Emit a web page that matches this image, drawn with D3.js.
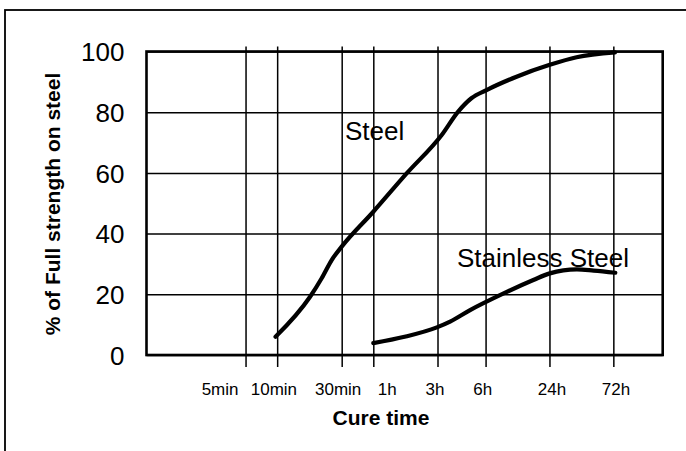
<!DOCTYPE html>
<meta charset="utf-8">
<head>
    <title>Cure time vs strength</title>
    <script src="https://cdn.jsdelivr.net/npm/d3@7"></script>
    <style>
        body { margin: 0; background: #fff; }
        text { font-family: "Liberation Sans", Arial, sans-serif; fill: #000; }
        .grid line { stroke: #000; stroke-width: 1.5; }
        .grid .domain { display: none; }
    </style>
</head>
<body>
<div id="chart"></div>
<script>
    // tick positions on the x axis (axis units) and the cure time labels
    var tickPos = [3.07, 4.05, 6.05, 7.03, 9.02, 10.51, 12.49, 14.47];
    var tickLabels = ["5min", "10min", "30min", "1h", "3h", "6h", "24h", "72h"];
    var labelPos = [2.28, 3.95, 5.94, 7.46, 8.94, 10.42, 12.57, 14.55];
    var yTicks = [0, 20, 40, 60, 80, 100];

    // curves (x in axis units, y in %)
    var steelX = [4.0, 5.07, 5.43, 5.74, 6.05, 7.03, 8.07, 9.15, 9.66, 10.07, 10.54, 11.47, 12.5, 13.33, 14.52];
    var steelY = [6.0, 19.2, 25.3, 31.3, 35.7, 47.2, 59.9, 72.5, 80.2, 84.6, 87.3, 91.7, 95.6, 98.1, 99.7];
    var stainlessX = [7.03, 8.0, 9.0, 9.41, 10.03, 11.07, 11.99, 12.5, 13.34, 13.86, 14.53];
    var stainlessY = [3.9, 6.0, 9.1, 11.0, 14.8, 20.3, 24.7, 26.9, 28.2, 27.8, 27.1];

    var width = 686, height = 451;
    var plot = { left: 146.5, right: 662.7, top: 51.5, bottom: 355 };

    var svg = d3.select("#chart").append("svg")
        .attr("width", width)
        .attr("height", height);

    // outer frame, runs off the right and bottom edges
    svg.append("rect")
        .attr("x", 5).attr("y", 10)
        .attr("width", 700).attr("height", 460)
        .attr("fill", "none")
        .attr("stroke", "#000")
        .attr("stroke-width", 1.8);

    var x = d3.scaleLinear().domain([0, 16]).range([plot.left, plot.right]);
    var y = d3.scaleLinear().domain([0, 100]).range([plot.bottom, plot.top]);

    // vertical grid lines, sticking out above and below the plot
    svg.append("g")
        .attr("class", "grid")
        .attr("transform", "translate(0,367)")
        .call(d3.axisBottom(x).tickValues(tickPos).tickSize(-(367 - 46.5)).tickFormat(""));

    // horizontal grid lines + y labels
    var yAxis = svg.append("g")
        .attr("class", "grid")
        .attr("transform", "translate(" + plot.left + ",0)")
        .call(d3.axisLeft(y).tickValues(yTicks).tickSize(-(plot.right - plot.left)).tickPadding(22));
    yAxis.selectAll("text")
        .style("font-size", "26px")
        .attr("dy", "0.35em");

    // plot frame
    svg.append("rect")
        .attr("x", plot.left).attr("y", plot.top)
        .attr("width", plot.right - plot.left)
        .attr("height", plot.bottom - plot.top)
        .attr("fill", "none")
        .attr("stroke", "#000")
        .attr("stroke-width", 2.6);

    // x labels
    svg.selectAll(".xlab")
        .data(tickLabels)
        .enter()
        .append("text")
        .attr("class", "xlab")
        .attr("x", function (d, i) { return x(labelPos[i]); })
        .attr("y", 395)
        .attr("text-anchor", "middle")
        .style("font-size", "17px")
        .text(function (d) { return d; });

    svg.append("text")
        .attr("x", 381).attr("y", 425)
        .attr("text-anchor", "middle")
        .style("font-size", "21px")
        .style("font-weight", "bold")
        .text("Cure time");

    svg.append("text")
        .attr("transform", "translate(60,204) rotate(-90)")
        .attr("text-anchor", "middle")
        .style("font-size", "21px")
        .style("font-weight", "bold")
        .text("% of Full strength on steel");

    var line = d3.line()
        .x(function (d) { return x(d[0]); })
        .y(function (d) { return y(d[1]); })
        .curve(d3.curveMonotoneX);

    var series = [
        { name: "Steel", pts: d3.zip(steelX, steelY) },
        { name: "Stainless Steel", pts: d3.zip(stainlessX, stainlessY) }
    ];

    svg.selectAll(".curve")
        .data(series)
        .enter()
        .append("path")
        .attr("class", "curve")
        .attr("d", function (d) { return line(d.pts); })
        .attr("fill", "none")
        .attr("stroke", "#000")
        .attr("stroke-width", 4.2)
        .attr("stroke-linecap", "round");

    svg.append("text")
        .attr("x", 345).attr("y", 140)
        .style("font-size", "26px")
        .text("Steel");

    svg.append("text")
        .attr("x", 457).attr("y", 267)
        .style("font-size", "26px")
        .text("Stainless Steel");
</script>
</body>
</html>
